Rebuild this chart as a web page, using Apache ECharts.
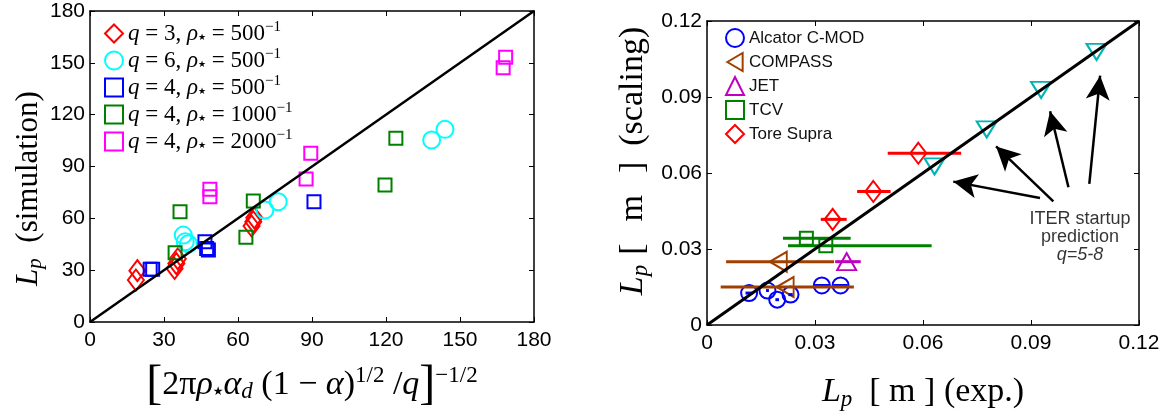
<!DOCTYPE html>
<html>
<head>
<meta charset="utf-8">
<script src="https://cdn.jsdelivr.net/npm/echarts@6/dist/echarts.min.js"></script>
<style>
html, body { margin: 0; padding: 0; background: #fff; }
#chart { width: 1171px; height: 416px; }
</style>
</head>
<body>
<div id="chart"></div>
<script>
// ---- left panel: L_p simulation vs scaling parameter ----
var leftTicks = [0, 30, 60, 90, 120, 150, 180];
var leftDiag = [[0, 0], [180, 180]];
var q3r500 = [[18.6, 24.3], [19.2, 29.7], [34.3, 31.0], [35.0, 33.8], [35.6, 36.6], [65.5, 55.6], [66.2, 58.0], [66.6, 60.3]];
var q6r500 = [[37.8, 50.3], [38.6, 46.5], [39.9, 45.3], [70.9, 64.8], [76.3, 69.6], [138.5, 105.3], [143.9, 111.5]];
var q4r500 = [[24.4, 30.5], [25.4, 30.5], [46.6, 46.5], [47.3, 42.6], [48.0, 41.7], [90.8, 69.6]];
var q4r1000 = [[34.5, 40.1], [36.5, 63.8], [63.2, 49.0], [66.2, 70.0], [119.6, 79.3], [124.0, 106.3]];
var q4r2000 = [[48.6, 76.8], [48.6, 72.5], [87.6, 82.8], [89.5, 97.6], [167.5, 147.2], [168.5, 153.2]];
var leftNames = ['q3', 'q6', 'q4a', 'q4b', 'q4c'];
var leftLabels = ['3', '6', '4', '4', '4'];
var leftRho = ['500', '500', '500', '1000', '2000'];

// ---- right panel: L_p scaling vs experiment ----
var rightTicks = [0, 0.03, 0.06, 0.09, 0.12];
var rightDiag = [[0, 0], [0.12, 0.12]];
var cmodX = [0.0117, 0.0168, 0.0195, 0.0232, 0.0319, 0.0371];
var cmodY = [0.0126, 0.0136, 0.0100, 0.0120, 0.0156, 0.0156];
var cmodErr = [0.0010, 0.0004, 0.0005, 0.0006, 0.0021, 0.0020];
var compassX = [0.0198, 0.0217];
var compassY = [0.0250, 0.0150];
var compassLo = [0.0053, 0.0038];
var compassHi = [0.0353, 0.0408];
var jetX = [0.0388];
var jetY = [0.0250];
var jetLo = [0.0356];
var jetHi = [0.0427];
var tcvX = [0.0276, 0.0330];
var tcvY = [0.0342, 0.0313];
var tcvLo = [0.0211, 0.0225];
var tcvHi = [0.0399, 0.0624];
var toreX = [0.0349, 0.0462, 0.0587];
var toreY = [0.0417, 0.0527, 0.0678];
var toreLo = [0.0316, 0.0417, 0.0502];
var toreHi = [0.0388, 0.0510, 0.0706];
var iterX = [0.0632, 0.0777, 0.0928, 0.1082];
var iterY = [0.0626, 0.0772, 0.0928, 0.1078];
var arrowFrom = [[0.0925, 0.0501], [0.0962, 0.0488], [0.1004, 0.0544], [0.1062, 0.0557]];
var arrowTo = [[0.0684, 0.0566], [0.0803, 0.0705], [0.0953, 0.0844], [0.1092, 0.0984]];
var noteAt = [0.1036, 0.0349];
var rightNames = ['Alcator C-MOD', 'COMPASS', 'JET', 'TCV', 'Tore Supra'];

var sans = 'Liberation Sans';
var serif = 'Liberation Serif';
var star = '\u2605';

var zip = function (xs, ys) { return xs.map(function (x, i) { return [x, ys[i]]; }); };

function axisPair(grid, min, max, step, bottom) {
  var tickLab = {
    show: true, fontFamily: sans, fontSize: 21, color: '#000',
    formatter: function (v) { return String(+v.toFixed(2)); }
  };
  var common = {
    gridIndex: grid, type: 'value', min: min, max: max, interval: step,
    splitLine: { show: false },
    axisLine: { show: true, onZero: false, lineStyle: { color: '#000', width: 1.5 } },
    axisTick: { show: true, inside: true, length: 5, lineStyle: { color: '#000', width: 1 } }
  };
  var main = Object.assign({}, common, { position: bottom ? 'bottom' : 'left', axisLabel: Object.assign({ margin: bottom ? 8 : 5 }, tickLab) });
  var mirror = Object.assign({}, common, { position: bottom ? 'top' : 'right', axisLabel: { show: false } });
  return [main, mirror];
}

function richFor(fs) {
  return {
    t: { fontFamily: serif, fontSize: fs, color: '#000' },
    i: { fontFamily: serif, fontStyle: 'italic', fontSize: fs, color: '#000' },
    sub: { fontFamily: serif, fontStyle: 'italic', fontSize: Math.round(fs * 0.68), color: '#000', padding: [Math.round(fs * 0.42), 0, 0, 0] },
    st: { fontFamily: 'DejaVu Sans', fontSize: Math.round(fs * 0.36), color: '#000', padding: [Math.round(fs * 0.4), 0, 0, 0] },
    sup: { fontFamily: serif, fontSize: Math.round(fs * 0.68), color: '#000', padding: [0, 0, Math.round(fs * 0.55), 0] },
    b: { fontFamily: serif, fontSize: Math.round(fs * 1.4), color: '#000' },
    lb: { fontFamily: serif, fontSize: fs, color: '#000', padding: [0, 22, 0, 10] },
    rb: { fontFamily: serif, fontSize: fs, color: '#000', padding: [0, 16, 0, 22] }
  };
}

var xA0 = axisPair(0, 0, 180, 30, true);
var yA0 = axisPair(0, 0, 180, 30, false);
var xA1 = axisPair(1, 0, 0.12, 0.03, true);
var yA1 = axisPair(1, 0, 0.12, 0.03, false);

xA0[0].name = '{b|[}{t|2π}{i|ρ}{st|' + star + '}{i|α}{sub|d}{t| (1 − }{i|α}{t|)}{sup|1/2}{t| /}{i|q}{b|]}{sup|−1/2}';
xA0[0].nameLocation = 'middle';
xA0[0].nameGap = 39;
xA0[0].nameTextStyle = { rich: richFor(34) };
yA0[0].name = '{i|L}{sub|p}{t|  (simulation)}';
yA0[0].nameLocation = 'middle';
yA0[0].nameGap = 42;
yA0[0].nameTextStyle = { rich: richFor(31), padding: [0, 44, 0, 0] };
xA1[0].name = '{i|L}{sub|p}{t|  [ m ] (exp.)}';
xA1[0].nameLocation = 'middle';
xA1[0].nameGap = 49;
xA1[0].nameTextStyle = { rich: richFor(34) };
yA1[0].name = '{i|L}{sub|p}{lb|[}{t|m}{rb|]}{t|(scaling)}';
yA1[0].nameLocation = 'middle';
yA1[0].nameGap = 55;
yA1[0].nameTextStyle = { rich: richFor(34), padding: [0, 0, 0, 24] };

function hollow(name, data, symbol, size, color, xi, yi) {
  return {
    name: name, type: 'scatter', xAxisIndex: xi, yAxisIndex: yi,
    symbol: symbol, symbolSize: size, data: data, z: 4,
    itemStyle: { color: 'rgba(0,0,0,0)', borderColor: color, borderWidth: 2, opacity: 1 },
    emphasis: { disabled: true }
  };
}

function errBars(ys, lo, hi, color, width) {
  return {
    type: 'custom', xAxisIndex: 2, yAxisIndex: 2, z: 5, silent: true,
    data: ys.map(function (y, i) { return [lo[i], hi[i], y]; }),
    encode: { x: [0, 1], y: 2 },
    renderItem: function (params, api) {
      var a = api.coord([api.value(0), api.value(2)]);
      var b = api.coord([api.value(1), api.value(2)]);
      return { type: 'line', shape: { x1: a[0], y1: a[1], x2: b[0], y2: b[1] }, style: { stroke: color, lineWidth: width } };
    }
  };
}

var triLeft = 'path://M0,10L17,0L17,20Z';
var triDown = 'path://M0,0L20,0L10,16Z';

var series = [
  { type: 'line', xAxisIndex: 0, yAxisIndex: 0, data: leftDiag, symbol: 'none', z: 6, silent: true,
    lineStyle: { color: '#000', width: 2.5 } },
  hollow(leftNames[0], q3r500, 'diamond', [16, 21], '#ff0000', 0, 0),
  hollow(leftNames[1], q6r500, 'circle', 17, '#00ffff', 0, 0),
  hollow(leftNames[2], q4r500, 'rect', 13, '#0000ff', 0, 0),
  hollow(leftNames[3], q4r1000, 'rect', 13, '#008000', 0, 0),
  hollow(leftNames[4], q4r2000, 'rect', 13, '#ff00ff', 0, 0),

  { type: 'line', xAxisIndex: 2, yAxisIndex: 2, data: rightDiag, symbol: 'none', z: 6, silent: true,
    lineStyle: { color: '#000', width: 3 },
    markLine: {
      silent: true, symbol: ['none', 'arrow'], symbolSize: [18, 24], label: { show: false },
      lineStyle: { color: '#000', width: 2.5, type: 'solid' },
      data: arrowFrom.map(function (p, i) { return [{ coord: p }, { coord: arrowTo[i] }]; })
    }
  },
  errBars(cmodY, cmodX.map(function (x, i) { return x - cmodErr[i]; }), cmodX.map(function (x, i) { return x + cmodErr[i]; }), '#0000ff', 3),
  errBars(compassY, compassLo, compassHi, '#a04000', 3),
  errBars(jetY, jetLo, jetHi, '#c000c0', 3),
  errBars(tcvY, tcvLo, tcvHi, '#008000', 3),
  errBars(toreY, toreLo, toreHi, '#ff0000', 3),
  hollow(rightNames[0], zip(cmodX, cmodY), 'circle', 16, '#0000ff', 2, 2),
  hollow(rightNames[1], zip(compassX, compassY), triLeft, [17, 20], '#a04000', 2, 2),
  hollow(rightNames[2], zip(jetX, jetY), 'triangle', [19, 17], '#c000c0', 2, 2),
  hollow(rightNames[3], zip(tcvX, tcvY), 'rect', 13, '#008000', 2, 2),
  hollow(rightNames[4], zip(toreX, toreY), 'diamond', [16, 21], '#ff0000', 2, 2),
  hollow('ITER', zip(iterX, iterY), triDown, [20, 16], '#00b4b4', 2, 2),
  { type: 'scatter', xAxisIndex: 2, yAxisIndex: 2, data: [noteAt], symbolSize: 0, silent: true, z: 7,
    label: {
      show: true, position: 'inside', formatter: '{a|ITER startup}\n{a|prediction}\n{b|q=5-8}',
      rich: {
        a: { fontFamily: sans, fontSize: 18, color: '#000', lineHeight: 18 },
        b: { fontFamily: sans, fontStyle: 'italic', fontSize: 18, color: '#000', lineHeight: 18 }
      }
    }
  }
];

var legendRich = {
  t: { fontFamily: serif, fontSize: 23, color: '#000' },
  i: { fontFamily: serif, fontStyle: 'italic', fontSize: 23, color: '#000' },
  st: { fontFamily: 'DejaVu Sans', fontSize: 9, color: '#000', padding: [9, 0, 0, 0] },
  sup: { fontFamily: serif, fontSize: 15, color: '#000', padding: [0, 0, 12, 0] }
};

var chart = echarts.init(document.getElementById('chart'), null, { renderer: 'canvas' });
chart.setOption({
  backgroundColor: '#fff',
  animation: false,
  grid: [
    { left: 90, top: 11, width: 444, height: 311 },
    { left: 707, top: 21, width: 432, height: 306 }
  ],
  xAxis: [xA0[0], xA0[1], xA1[0], xA1[1]],
  yAxis: [yA0[0], yA0[1], yA1[0], yA1[1]],
  legend: [
    {
      data: leftNames, orient: 'vertical', left: 99, top: 15, itemWidth: 18, itemHeight: 18, itemGap: 2,
      selectedMode: false,
      formatter: function (n) {
        var k = leftNames.indexOf(n);
        return '{i|q}{t| = ' + leftLabels[k] + ', }{i|ρ}{st|' + star + '}{t| = ' + leftRho[k] + '}{sup|−1}';
      },
      textStyle: { rich: legendRich }
    },
    {
      data: rightNames, orient: 'vertical', left: 720, top: 23, itemWidth: 18, itemHeight: 18, itemGap: 4,
      selectedMode: false,
      textStyle: { fontFamily: sans, fontSize: 17, color: '#111' }
    }
  ],
  series: series
});
</script>
</body>
</html>
